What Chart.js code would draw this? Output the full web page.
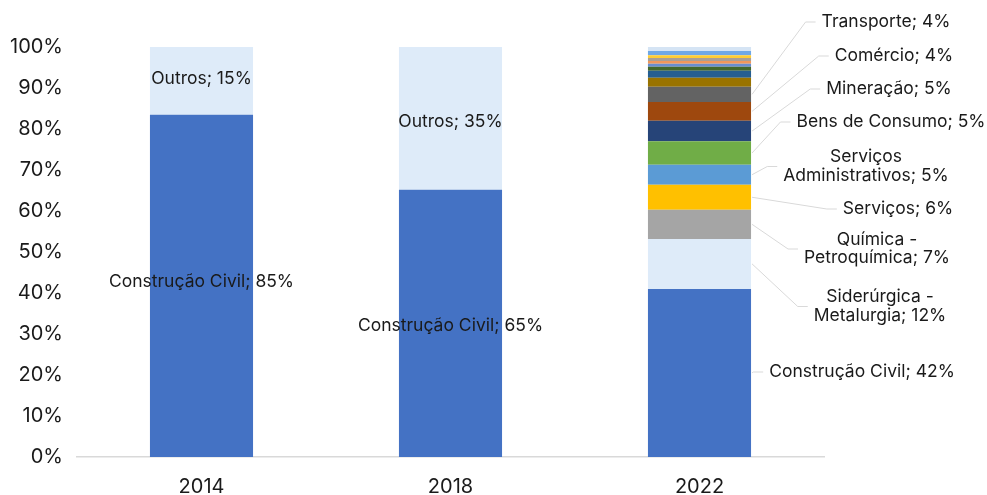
<!DOCTYPE html>
<html>
<head>
<meta charset="utf-8">
<script src="https://cdn.jsdelivr.net/npm/chart.js@4/dist/chart.umd.min.js"></script>
<style>
body{margin:0;background:#fff;}
#wrap{width:987px;height:495px;position:relative;}
</style>
</head>
<body>
<div id="wrap"><canvas id="myChart"></canvas></div>
<script>
// categorias e valores (% da barra)
var anos = ['2014', '2018', '2022'];
var construcao  = [83.5, 65.2, 41.0];
var outros      = [16.5, 34.8, null];
var siderurgica = [null, null, 12.2];
var quimica     = [null, null, 7.1];
var servicos    = [null, null, 6.1];
var servAdmin   = [null, null, 4.9];
var bensConsumo = [null, null, 5.7];
var mineracao   = [null, null, 5.0];
var comercio    = [null, null, 4.6];
var transporte  = [null, null, 3.7];
// setores pequenos sem rótulo no topo de 2022
var menores2022 = [2.2, 1.7, 1.0, 0.7, 0.7, 0.7, 0.7, 1.0, 1.0];

// texto dos rótulos
var pctConstrucao = [85, 65, 42];
var pctOutros = [15, 35];
var nomes2022 = [['Construção Civil'], ['Siderúrgica -', 'Metalurgia'], ['Química -', 'Petroquímica'], ['Serviços'],
	['Serviços', 'Administrativos'], ['Bens de Consumo'], ['Mineração'], ['Comércio'], ['Transporte']];
var pct2022 = [42, 12, 7, 6, 5, 5, 5, 4, 4];
var yTicks = [0, 10, 20, 30, 40, 50, 60, 70, 80, 90, 100];

var cores = ['#4472c4', '#deebf9', '#a5a5a5', '#ffc000', '#5b9bd5', '#70ad47', '#264478', '#9e480e', '#636363',
	'#997300', '#255e91', '#43682b', '#698ed0', '#f1975a', '#ab9f93', '#ffcd33', '#6fa8e6', '#d5e4f4'];

// posição dos rótulos de 2022 (centro x, y de cada linha)
var posRotulos = [
	{cx: 862, ys: [372]},
	{cx: 880, ys: [297, 316]},
	{cx: 877, ys: [240, 258]},
	{cx: 898, ys: [209]},
	{cx: 866, ys: [157, 176]},
	{cx: 891, ys: [122]},
	{cx: 889, ys: [89]},
	{cx: 894, ys: [56]},
	{cx: 886, ys: [22]}
];
// pequeno ajuste vertical dos rótulos internos (2014, 2018)
var ajusteConstr = [-4, 2];
var ajusteOutros = [-2, 3];

var fonte = "Inter, 'Liberation Sans', Arial, sans-serif";

function montaDatasets(){
	var series = [construcao, outros, siderurgica, quimica, servicos, servAdmin, bensConsumo, mineracao, comercio, transporte];
	var ds = [];
	for (var i = 0; i < series.length; i++) {
		ds.push({data: series[i], backgroundColor: cores[i > 1 ? i - 1 : i]});
	}
	for (var j = 0; j < menores2022.length; j++) {
		ds.push({data: [null, null, menores2022[j]], backgroundColor: cores[9 + j]});
	}
	return ds;
}

var rotulos = {
	id: 'rotulos',
	afterDatasetsDraw: function(chart){
		var ctx = chart.ctx;
		ctx.save();
		ctx.font = '17.5px ' + fonte;
		ctx.fillStyle = '#1a1a1a';
		ctx.textAlign = 'center';
		ctx.textBaseline = 'middle';
		// 2014 e 2018: rótulos dentro das barras
		for (var i = 0; i < 2; i++) {
			var e0 = chart.getDatasetMeta(0).data[i];
			ctx.fillText('Construção Civil; ' + pctConstrucao[i] + '%', e0.x, (e0.y + e0.base) / 2 + ajusteConstr[i]);
			var e1 = chart.getDatasetMeta(1).data[i];
			ctx.fillText('Outros; ' + pctOutros[i] + '%', e1.x, (e1.y + e1.base) / 2 + ajusteOutros[i]);
		}
		// 2022: rótulos fora com linhas
		var dsIdx = [0, 2, 3, 4, 5, 6, 7, 8, 9];
		for (var k = 0; k < dsIdx.length; k++) {
			var el = chart.getDatasetMeta(dsIdx[k]).data[2];
			var linhas = nomes2022[k].slice();
			linhas[linhas.length - 1] += '; ' + pct2022[k] + '%';
			var p = posRotulos[k];
			var maxW = 0;
			for (var m = 0; m < linhas.length; m++) {
				maxW = Math.max(maxW, ctx.measureText(linhas[m]).width);
			}
			var ancY = (p.ys[0] + p.ys[p.ys.length - 1]) / 2;
			var fim = p.cx - maxW / 2 - 6;
			var barX = el.x + el.width / 2;
			var segY = (el.y + el.base) / 2;
			ctx.strokeStyle = '#d9d9d9';
			ctx.lineWidth = 1;
			ctx.beginPath();
			ctx.moveTo(barX + 1, segY);
			ctx.lineTo(fim - 10, ancY);
			ctx.lineTo(fim, ancY);
			ctx.stroke();
			for (var n = 0; n < linhas.length; n++) {
				ctx.fillText(linhas[n], p.cx, p.ys[n]);
			}
		}
		ctx.restore();
	}
};

function grafon(){
	var ctx = document.getElementById('myChart').getContext('2d');
	var chart = new Chart(ctx, {
		type: 'bar',
		data: {
			labels: anos,
			datasets: montaDatasets()
		},
		options: {
			responsive: true,
			maintainAspectRatio: false,
			animation: false,
			layout: {padding: {left: 8, right: 163, top: 47, bottom: 0}},
			datasets: {bar: {barPercentage: 0.414, categoryPercentage: 1, borderWidth: 0}},
			plugins: {legend: {display: false}, tooltip: {enabled: false}},
			scales: {
				x: {
					stacked: true,
					afterFit: function(scale){ scale.height = 38; },
					grid: {display: false},
					border: {display: true, color: '#d9d9d9', width: 1.5},
					ticks: {color: '#1a1a1a', font: {family: fonte, size: 20}, padding: 10}
				},
				y: {
					stacked: true,
					min: 0,
					max: 100,
					afterBuildTicks: function(scale){
						scale.ticks = yTicks.map(function(v){ return {value: v}; });
					},
					afterFit: function(scale){ scale.width = 69; },
					grid: {display: false},
					border: {display: false},
					ticks: {
						color: '#1a1a1a',
						font: {family: fonte, size: 20},
						padding: 6,
						callback: function(v){ return v + '%'; }
					}
				}
			}
		},
		plugins: [rotulos]
	});
}

grafon();
</script>
</body>
</html>
